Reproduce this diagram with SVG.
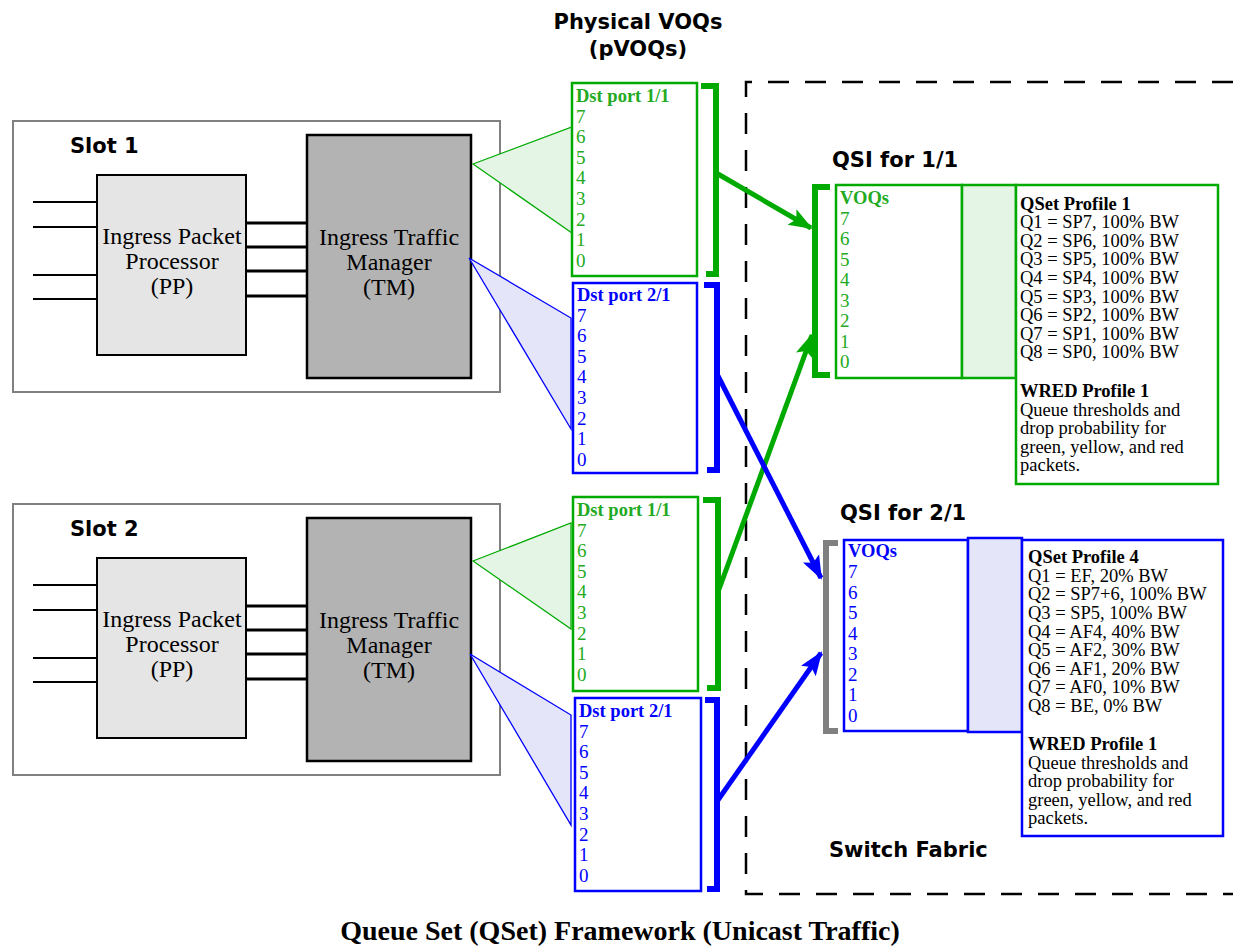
<svg xmlns="http://www.w3.org/2000/svg" width="1233" height="947" viewBox="0 0 1233 947">
<style>
.slot{fill:#fff;stroke:#808080;stroke-width:2}
.pp{fill:#e5e5e5;stroke:#000;stroke-width:2}
.tm{fill:#b3b3b3;stroke:#000;stroke-width:2.5}
.wire{stroke:#000;stroke-width:2}
.wire3{stroke:#000;stroke-width:3}
.hd{font-family:"DejaVu Sans","Liberation Sans",sans-serif;font-weight:bold;font-size:21px;fill:#000}
.ser{font-family:"Liberation Serif",serif;font-size:24px;fill:#000}
.q{font-family:"Liberation Serif",serif;font-size:19px}
.qb{font-family:"Liberation Serif",serif;font-size:18.5px;font-weight:bold}
.g{fill:#22aa22}
.b{fill:#0000ff}
.gbox{fill:#fff;stroke:#00aa00;stroke-width:2.5}
.bbox{fill:#fff;stroke:#0000ff;stroke-width:2.5}
.gtri{fill:#e5f5e5;stroke:#00aa00;stroke-width:1.3}
.btri{fill:#e5e5fa;stroke:#0000ff;stroke-width:1.3}
.gbr{fill:none;stroke:#00aa00;stroke-width:6}
.bbr{fill:none;stroke:#0000ff;stroke-width:6}
.ybr{fill:none;stroke:#808080;stroke-width:6}
.p{font-family:"Liberation Serif",serif;font-size:18.5px;fill:#000}
.pb{font-family:"Liberation Serif",serif;font-size:18.5px;font-weight:bold;fill:#000}
</style>
<defs>
<marker id="ag" markerUnits="userSpaceOnUse" markerWidth="26" markerHeight="22" refX="22" refY="11" orient="auto"><path d="M0,2 L24,11 L0,20 L5,11 Z" fill="#00aa00"/></marker>
<marker id="ab" markerUnits="userSpaceOnUse" markerWidth="26" markerHeight="22" refX="22" refY="11" orient="auto"><path d="M0,2 L24,11 L0,20 L5,11 Z" fill="#0000ff"/></marker>
</defs>
<rect width="1233" height="947" fill="#fff"/>

<!-- Switch fabric boundary -->
<path d="M1233,82 H746 V894 H1233" fill="none" stroke="#000" stroke-width="2.5" stroke-dasharray="21 16"/>

<text class="hd" x="638" y="29" text-anchor="middle">Physical VOQs</text>
<text class="hd" x="638" y="56" text-anchor="middle">(pVOQs)</text>

<!-- Slot 1 -->
<g id="slot1">
<rect class="slot" x="13" y="121" width="487" height="271"/>
<text class="hd" x="70" y="153">Slot 1</text>
<line class="wire" x1="33" y1="202" x2="97" y2="202"/>
<line class="wire" x1="33" y1="227" x2="97" y2="227"/>
<line class="wire" x1="33" y1="275" x2="97" y2="275"/>
<line class="wire" x1="33" y1="299" x2="97" y2="299"/>
<line class="wire3" x1="246" y1="223" x2="307" y2="223"/>
<line class="wire3" x1="246" y1="247" x2="307" y2="247"/>
<line class="wire3" x1="246" y1="271" x2="307" y2="271"/>
<line class="wire3" x1="246" y1="296" x2="307" y2="296"/>
</g>
<g id="pp1">
<rect class="pp" x="97" y="175" width="149" height="180"/>
<text class="ser" text-anchor="middle" x="172" y="244">Ingress Packet</text>
<text class="ser" text-anchor="middle" x="172" y="269">Processor</text>
<text class="ser" text-anchor="middle" x="172" y="294">(PP)</text>
</g>
<g id="tm1">
<rect class="tm" x="307" y="135" width="164" height="243"/>
<text class="ser" text-anchor="middle" x="389" y="245">Ingress Traffic</text>
<text class="ser" text-anchor="middle" x="389" y="270">Manager</text>
<text class="ser" text-anchor="middle" x="389" y="295">(TM)</text>
</g>

<!-- Slot 2 -->
<g id="slot2">
<rect class="slot" x="13" y="504" width="487" height="271"/>
<text class="hd" x="70" y="536">Slot 2</text>
<line class="wire" x1="33" y1="585" x2="97" y2="585"/>
<line class="wire" x1="33" y1="610" x2="97" y2="610"/>
<line class="wire" x1="33" y1="658" x2="97" y2="658"/>
<line class="wire" x1="33" y1="682" x2="97" y2="682"/>
<line class="wire3" x1="246" y1="606" x2="307" y2="606"/>
<line class="wire3" x1="246" y1="630" x2="307" y2="630"/>
<line class="wire3" x1="246" y1="654" x2="307" y2="654"/>
<line class="wire3" x1="246" y1="679" x2="307" y2="679"/>
</g>
<g id="pp2">
<rect class="pp" x="97" y="558" width="149" height="180"/>
<text class="ser" text-anchor="middle" x="172" y="627">Ingress Packet</text>
<text class="ser" text-anchor="middle" x="172" y="652">Processor</text>
<text class="ser" text-anchor="middle" x="172" y="677">(PP)</text>
</g>
<g id="tm2">
<rect class="tm" x="307" y="518" width="164" height="243"/>
<text class="ser" text-anchor="middle" x="389" y="628">Ingress Traffic</text>
<text class="ser" text-anchor="middle" x="389" y="653">Manager</text>
<text class="ser" text-anchor="middle" x="389" y="678">(TM)</text>
</g>

<!-- pVOQ boxes slot 1 -->
<g id="pvoq-s1-p11">
<polygon class="gtri" points="473,164 572,127 572,233"/>
<rect class="gbox" x="572" y="83" width="125" height="193"/>
<text class="qb g" x="576" y="102">Dst port 1/1</text>
<g class="q g"><text x="576" y="123">7</text><text x="576" y="143">6</text><text x="576" y="164">5</text><text x="576" y="184">4</text><text x="576" y="205">3</text><text x="576" y="226">2</text><text x="576" y="246">1</text><text x="576" y="267">0</text></g>
<path class="gbr" d="M701,86 H716 V274 H706"/>
</g>
<g id="pvoq-s1-p21">
<polygon class="btri" points="469,258 571,318 571,429"/>
<rect class="bbox" x="573" y="283" width="124" height="190"/>
<text class="qb b" x="577" y="301">Dst port 2/1</text>
<g class="q b"><text x="577" y="322">7</text><text x="577" y="342">6</text><text x="577" y="363">5</text><text x="577" y="383">4</text><text x="577" y="404">3</text><text x="577" y="425">2</text><text x="577" y="445">1</text><text x="577" y="466">0</text></g>
<path class="bbr" d="M704,285 H717 V470 H707"/>
</g>

<!-- pVOQ boxes slot 2 -->
<g id="pvoq-s2-p11">
<polygon class="gtri" points="473,561 571,523 571,629"/>
<rect class="gbox" x="573" y="497" width="125" height="194"/>
<text class="qb g" x="577" y="516">Dst port 1/1</text>
<g class="q g"><text x="577" y="537">7</text><text x="577" y="557">6</text><text x="577" y="578">5</text><text x="577" y="598">4</text><text x="577" y="619">3</text><text x="577" y="640">2</text><text x="577" y="660">1</text><text x="577" y="681">0</text></g>
<path class="gbr" d="M703,500 H718 V688 H707"/>
</g>
<g id="pvoq-s2-p21">
<polygon class="btri" points="470,654 571,715 571,825"/>
<rect class="bbox" x="575" y="698" width="126" height="193"/>
<text class="qb b" x="579" y="717">Dst port 2/1</text>
<g class="q b"><text x="579" y="738">7</text><text x="579" y="758">6</text><text x="579" y="779">5</text><text x="579" y="799">4</text><text x="579" y="820">3</text><text x="579" y="841">2</text><text x="579" y="861">1</text><text x="579" y="882">0</text></g>
<path class="bbr" d="M705,700 H717 V889 H707"/>
</g>

<!-- QSI 1/1 -->
<g id="qsi11">
<text class="hd" x="832" y="167">QSI for 1/1</text>
<path class="gbr" d="M830,187 H815 V375 H830"/>
<rect class="gbox" x="836" y="185" width="126" height="193"/>
<rect x="962" y="185" width="54" height="193" fill="#e5f5e5" stroke="#00aa00" stroke-width="2.5"/>
<rect class="gbox" x="1016" y="185" width="202" height="299"/>
<text class="qb g" x="840" y="204">VOQs</text>
<g class="q g"><text x="840" y="225">7</text><text x="840" y="245">6</text><text x="840" y="266">5</text><text x="840" y="286">4</text><text x="840" y="307">3</text><text x="840" y="327">2</text><text x="840" y="348">1</text><text x="840" y="368">0</text></g>
<text class="pb" x="1020" y="210">QSet Profile 1</text>
<text class="p" x="1020" y="228">Q1 = SP7, 100% BW</text>
<text class="p" x="1020" y="247">Q2 = SP6, 100% BW</text>
<text class="p" x="1020" y="265">Q3 = SP5, 100% BW</text>
<text class="p" x="1020" y="284">Q4 = SP4, 100% BW</text>
<text class="p" x="1020" y="303">Q5 = SP3, 100% BW</text>
<text class="p" x="1020" y="321">Q6 = SP2, 100% BW</text>
<text class="p" x="1020" y="340">Q7 = SP1, 100% BW</text>
<text class="p" x="1020" y="358">Q8 = SP0, 100% BW</text>
<text class="pb" x="1020" y="397">WRED Profile 1</text>
<text class="p" x="1020" y="416">Queue thresholds and</text>
<text class="p" x="1020" y="434">drop probability for</text>
<text class="p" x="1020" y="453">green, yellow, and red</text>
<text class="p" x="1020" y="471">packets.</text>
</g>

<!-- QSI 2/1 -->
<g id="qsi21">
<text class="hd" x="840" y="520">QSI for 2/1</text>
<path class="ybr" d="M838,543 H826 V731 H838"/>
<rect class="bbox" x="844" y="540" width="124" height="191"/>
<rect x="968" y="538" width="54" height="194" fill="#e5e5fa" stroke="#0000ff" stroke-width="2.5"/>
<rect class="bbox" x="1022" y="540" width="201" height="296"/>
<text class="qb b" x="848" y="557">VOQs</text>
<g class="q b"><text x="848" y="578">7</text><text x="848" y="599">6</text><text x="848" y="619">5</text><text x="848" y="640">4</text><text x="848" y="660">3</text><text x="848" y="681">2</text><text x="848" y="701">1</text><text x="848" y="722">0</text></g>
<text class="pb" x="1028" y="563">QSet Profile 4</text>
<text class="p" x="1028" y="582">Q1 = EF, 20% BW</text>
<text class="p" x="1028" y="600">Q2 = SP7+6, 100% BW</text>
<text class="p" x="1028" y="619">Q3 = SP5, 100% BW</text>
<text class="p" x="1028" y="638">Q4 = AF4, 40% BW</text>
<text class="p" x="1028" y="656">Q5 = AF2, 30% BW</text>
<text class="p" x="1028" y="675">Q6 = AF1, 20% BW</text>
<text class="p" x="1028" y="693">Q7 = AF0, 10% BW</text>
<text class="p" x="1028" y="712">Q8 = BE, 0% BW</text>
<text class="pb" x="1028" y="750">WRED Profile 1</text>
<text class="p" x="1028" y="769">Queue thresholds and</text>
<text class="p" x="1028" y="787">drop probability for</text>
<text class="p" x="1028" y="806">green, yellow, and red</text>
<text class="p" x="1028" y="824">packets.</text>
</g>

<!-- Connectors -->
<g id="connectors" stroke-width="5" fill="none">
<line x1="718" y1="174" x2="811" y2="228" stroke="#00aa00" marker-end="url(#ag)"/>
<line x1="718" y1="592" x2="812" y2="335" stroke="#00aa00" marker-end="url(#ag)"/>
<line x1="718" y1="376" x2="821" y2="578" stroke="#0000ff" marker-end="url(#ab)"/>
<line x1="718" y1="800" x2="821" y2="653" stroke="#0000ff" marker-end="url(#ab)"/>
</g>

<text class="hd" x="829" y="857">Switch Fabric</text>
<text x="620" y="940" text-anchor="middle" font-family="Liberation Serif, serif" font-weight="bold" font-size="28px" fill="#000">Queue Set (QSet) Framework (Unicast Traffic)</text>
</svg>
